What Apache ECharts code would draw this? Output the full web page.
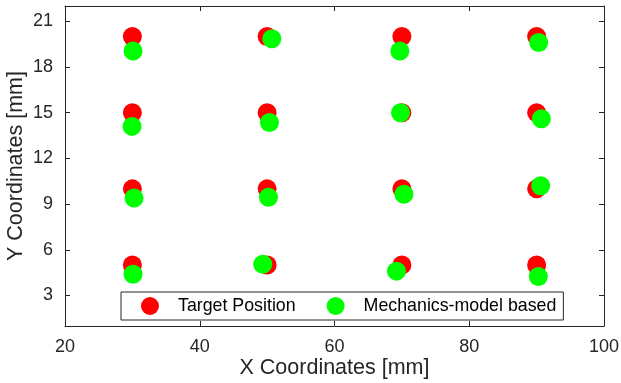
<!DOCTYPE html>
<html>
<head>
<meta charset="utf-8">
<script src="https://cdn.jsdelivr.net/npm/echarts@6/dist/echarts.min.js"></script>
<style>
  html, body { margin: 0; padding: 0; background: #fff; }
  #main { width: 621px; height: 383px; }
</style>
</head>
<body>
<div id="main"></div>
<script>
// target grid
var targetX = [30, 50, 70, 90, 30, 50, 70, 90, 30, 50, 70, 90, 30, 50, 70, 90];
var targetY = [20, 20, 20, 20, 15, 15, 15, 15, 10, 10, 10, 10, 5, 5, 5, 5];
// mechanics-model results
var modelX = [30.1, 50.7, 69.7, 90.3, 29.95, 50.35, 69.8, 90.7, 30.25, 50.2, 70.3, 90.6, 30.1, 49.35, 69.2, 90.25];
var modelY = [19.05, 19.85, 19.05, 19.6, 14.1, 14.35, 15.0, 14.6, 9.4, 9.45, 9.65, 10.2, 4.4, 5.05, 4.6, 4.25];
var xTicks = [20, 40, 60, 80, 100];
var yTicks = [3, 6, 9, 12, 15, 18, 21];

function pairs(xs, ys) {
    var out = [];
    for (var i = 0; i < xs.length; i++) out.push([xs[i], ys[i]]);
    return out;
}

var FONT = 'Liberation Sans';
var AX = '#262626';

var chart = echarts.init(document.getElementById('main'));
var option = {
    animation: false,
    textStyle: { fontFamily: FONT },
    grid: { left: 65, right: 17, top: 6, bottom: 57, outerBoundsMode: 'none', containLabel: false },
    legend: {
        left: 121, top: 292,
        icon: 'circle',
        itemWidth: 46, itemHeight: 18,
        itemGap: 31,
        padding: [5, 7, 5, 20],
        borderColor: AX, borderWidth: 1,
        backgroundColor: '#fff',
        textStyle: { fontFamily: FONT, fontSize: 17.8, color: '#000' },
        data: ['Target Position', 'Mechanics-model based']
    },
    xAxis: [{
        type: 'value', min: 20, max: 100, interval: 20,
        name: 'X Coordinates [mm]', nameLocation: 'middle', nameGap: 31, nameMoveOverlap: false,
        nameTextStyle: { fontSize: 21.5, color: AX, fontFamily: FONT },
        axisLine: { lineStyle: { color: AX, width: 1 } },
        axisTick: { inside: true, length: 5, lineStyle: { color: AX } },
        axisLabel: { fontSize: 18, color: AX, margin: 12, fontFamily: FONT },
        splitLine: { show: false }
    }, {
        type: 'value', position: 'top', min: 20, max: 100, interval: 20,
        axisLine: { show: true, lineStyle: { color: AX, width: 1 } },
        axisTick: { inside: true, length: 5, lineStyle: { color: AX } },
        axisLabel: { show: false }, splitLine: { show: false }
    }],
    yAxis: [{
        type: 'value', min: 1, max: 22,
        name: 'Y Coordinates [mm]', nameLocation: 'middle', nameGap: 38, nameMoveOverlap: false,
        nameTextStyle: { fontSize: 21.5, color: AX, fontFamily: FONT },
        axisLine: { show: true, lineStyle: { color: AX, width: 1 } },
        axisTick: { inside: true, length: 5, lineStyle: { color: AX }, customValues: yTicks },
        axisLabel: { fontSize: 18, color: AX, margin: 12, fontFamily: FONT, customValues: yTicks },
        splitLine: { show: false }
    }, {
        type: 'value', position: 'right', min: 1, max: 22,
        axisLine: { show: true, lineStyle: { color: AX, width: 1 } },
        axisTick: { inside: true, length: 5, lineStyle: { color: AX }, customValues: yTicks },
        axisLabel: { show: false, customValues: yTicks }, splitLine: { show: false }
    }],
    series: [{
        name: 'Target Position', type: 'scatter',
        symbolSize: 19,
        itemStyle: { color: '#ff0000', opacity: 1 },
        data: pairs(targetX, targetY)
    }, {
        name: 'Mechanics-model based', type: 'scatter',
        symbolSize: 19,
        itemStyle: { color: '#00ff00', opacity: 1 },
        data: pairs(modelX, modelY)
    }]
};
chart.setOption(option);
</script>
</body>
</html>
